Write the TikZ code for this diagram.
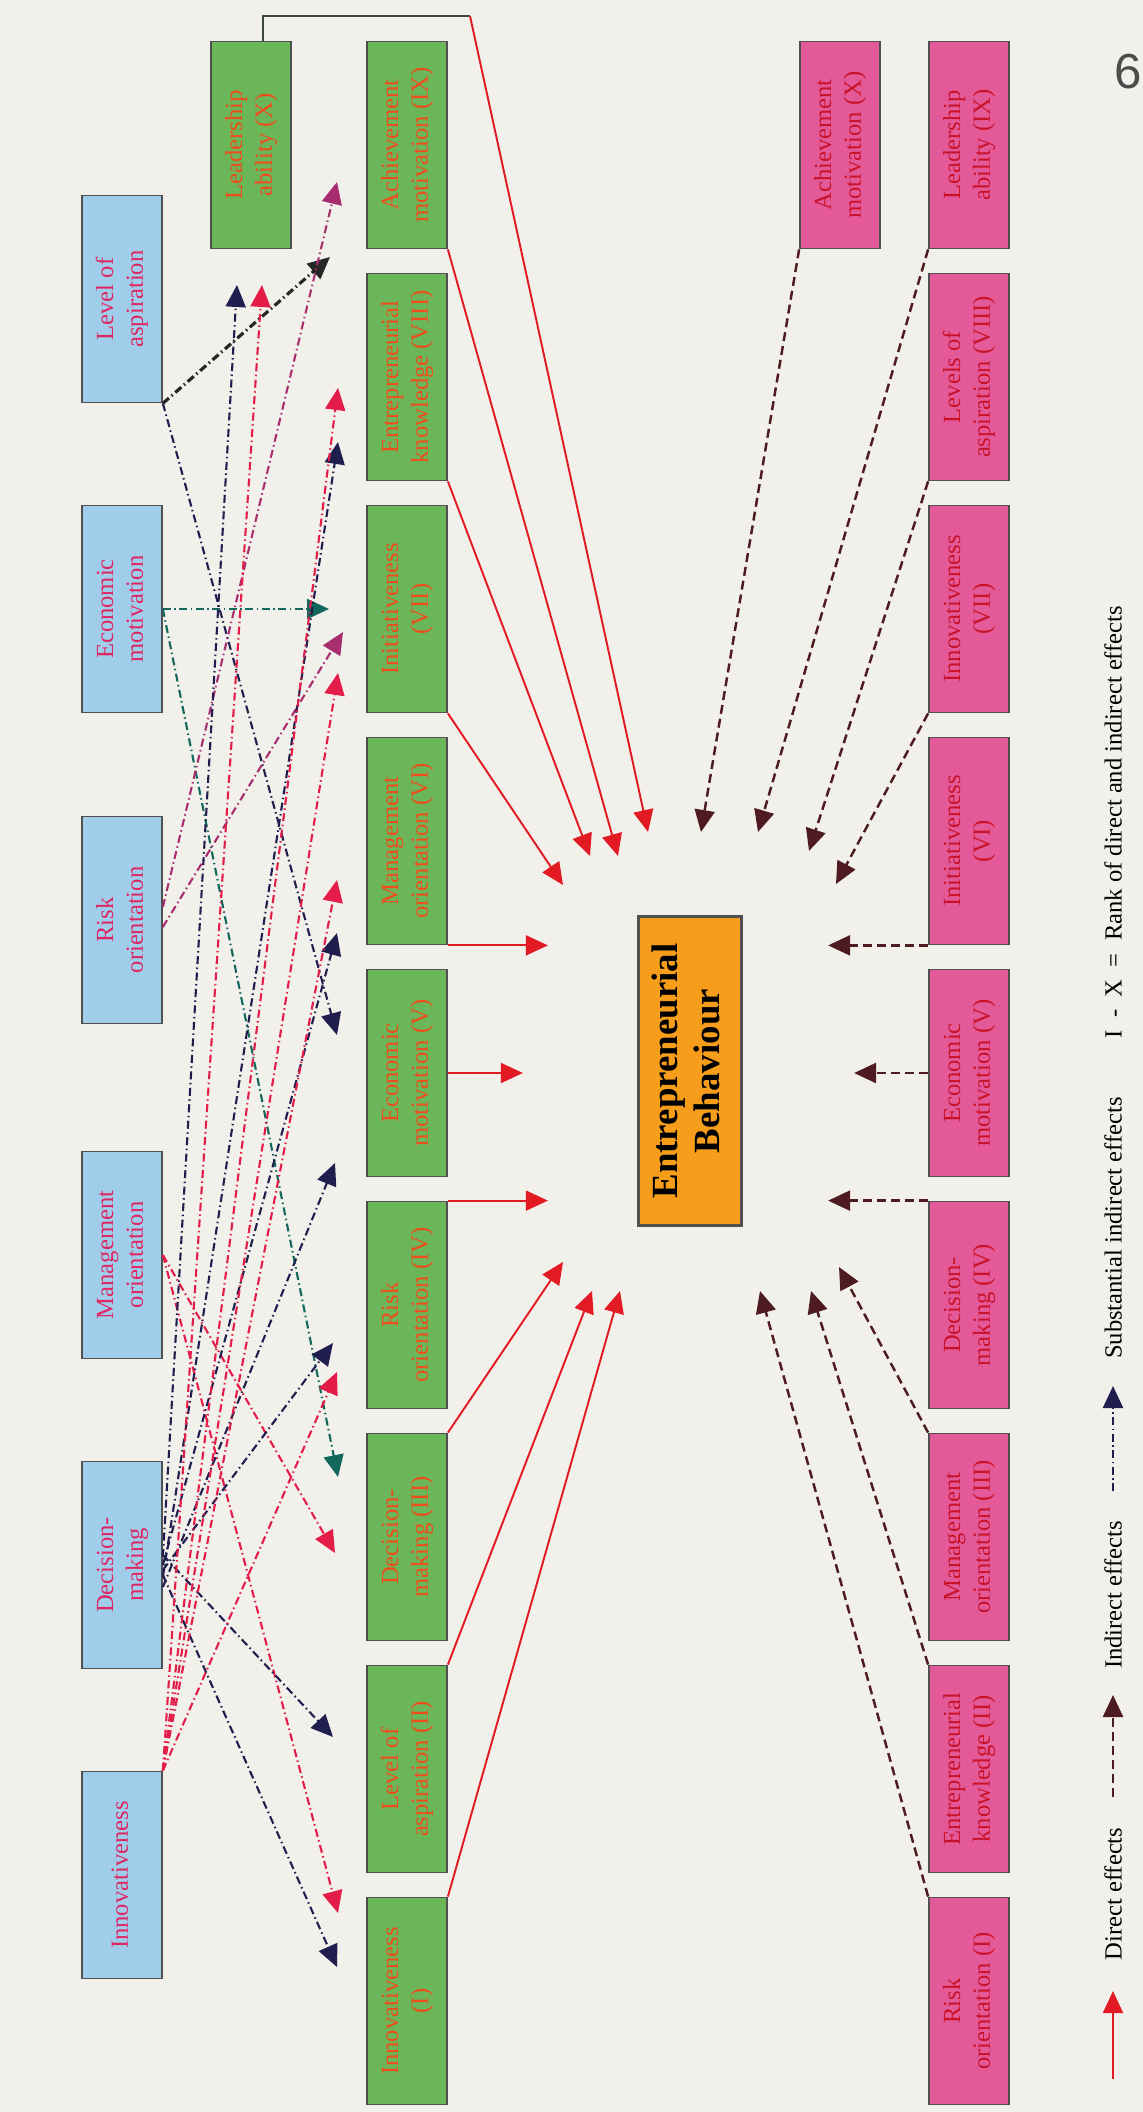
\documentclass[tikz,border=0pt]{standalone}
\usepackage{graphicx}
\usepackage{fontspec}
\setmainfont{Liberation Serif}
\newfontfamily\pagefont{Liberation Sans}
\usetikzlibrary{arrows.meta,calc}

\definecolor{paper}{RGB}{242,240,235}
\definecolor{boxline}{RGB}{80,80,80}
\definecolor{bluefill}{RGB}{160,206,234}
\definecolor{greenfill}{RGB}{108,182,90}
\definecolor{pinkfill}{RGB}{228,90,152}
\definecolor{ebfill}{RGB}{246,158,28}
\definecolor{bluetxt}{RGB}{222,38,98}
\definecolor{greentxt}{RGB}{240,76,28}
\definecolor{pinktxt}{RGB}{200,18,42}
\definecolor{dred}{RGB}{226,26,36}
\definecolor{dbrown}{RGB}{78,28,32}
\definecolor{navyc}{RGB}{32,30,78}
\definecolor{redc}{RGB}{228,28,72}
\definecolor{magc}{RGB}{168,46,112}
\definecolor{tealc}{RGB}{18,104,92}
\definecolor{bracket}{RGB}{60,72,60}

\newcommand{\vt}[1]{\rotatebox{90}{\begin{tabular}{@{}c@{}}#1\end{tabular}}}

\begin{document}
\begin{tikzpicture}[x=0.1mm,y=-0.1mm,
   box/.style={draw=boxline,line width=0.5pt,minimum width=8mm,minimum height=20.7mm,
     inner sep=0pt,font=\fontsize{7}{8.5}\selectfont},
   bluebox/.style={box,fill=bluefill,text=bluetxt},
   greenbox/.style={box,fill=greenfill,text=greentxt},
   pinkbox/.style={box,fill=pinkfill,text=pinktxt},
   tip/.style={-{Triangle[length=2.2mm,width=2mm]}},
   direct/.style={tip,draw=dred,line width=0.55pt},
   indirect/.style={tip,draw=dbrown,line width=0.7pt,dash pattern=on 0.9mm off 0.5mm},
   subst/.style={tip,line width=0.6pt,dash pattern=on 0.8mm off 0.35mm on 0.15mm off 0.35mm},
   legend/.style={rotate=90,font=\fontsize{7}{8.5}\selectfont,inner sep=0pt}]
\fill[paper] (0,0) rectangle (1143,2112);
\useasboundingbox (0,0) rectangle (1143,2112);

\draw (122,299) node[bluebox] (loa) {\vt{Level of\\aspiration}};
\draw (122,609) node[bluebox] (em) {\vt{Economic\\motivation}};
\draw (122,920) node[bluebox] (ro) {\vt{Risk\\orientation}};
\draw (122,1255) node[bluebox] (mo) {\vt{Management\\orientation}};
\draw (122,1565) node[bluebox] (dm) {\vt{Decision-\\making}};
\draw (122,1875) node[bluebox] (inn) {\vt{Innovativeness}};

\draw (251,145) node[greenbox] (g10) {\vt{Leadership\\ability (X)}};
\draw (407,145) node[greenbox] (g9) {\vt{Achievement\\motivation (IX)}};
\draw (407,377) node[greenbox] (g8) {\vt{Entrepreneurial\\knowledge (VIII)}};
\draw (407,609) node[greenbox] (g7) {\vt{Initiativeness\\(VII)}};
\draw (407,841) node[greenbox] (g6) {\vt{Management\\orientation (VI)}};
\draw (407,1073) node[greenbox] (g5) {\vt{Economic\\motivation (V)}};
\draw (407,1305) node[greenbox] (g4) {\vt{Risk\\orientation (IV)}};
\draw (407,1537) node[greenbox] (g3) {\vt{Decision-\\making (III)}};
\draw (407,1769) node[greenbox] (g2) {\vt{Level of\\aspiration (II)}};
\draw (407,2001) node[greenbox] (g1) {\vt{Innovativeness\\(I)}};

\draw (690,1071) node[draw=boxline,line width=0.7pt,fill=ebfill,minimum width=10.3mm,
   minimum height=30.9mm,inner sep=0pt,font=\fontsize{10.5}{12}\selectfont\bfseries] (eb)
   {\vt{Entrepreneurial\\Behaviour}};

\draw (840,145) node[pinkbox] (p10) {\vt{Achievement\\motivation (X)}};
\draw (969,145) node[pinkbox] (p9) {\vt{Leadership\\ability (IX)}};
\draw (969,377) node[pinkbox] (p8) {\vt{Levels of\\aspiration (VIII)}};
\draw (969,609) node[pinkbox] (p7) {\vt{Innovativeness\\(VII)}};
\draw (969,841) node[pinkbox] (p6) {\vt{Initiativeness\\(VI)}};
\draw (969,1073) node[pinkbox] (p5) {\vt{Economic\\motivation (V)}};
\draw (969,1305) node[pinkbox] (p4) {\vt{Decision-\\making (IV)}};
\draw (969,1537) node[pinkbox] (p3) {\vt{Management\\orientation (III)}};
\draw (969,1769) node[pinkbox] (p2) {\vt{Entrepreneurial\\knowledge (II)}};
\draw (969,2001) node[pinkbox] (p1) {\vt{Risk\\orientation (I)}};

\node[font=\pagefont\fontsize{14}{14}\selectfont,text=black!70] (pg) at (1128,72) {6};

% direct effects
\coordinate (xb) at (470,16);
\coordinate (dX) at (648,832);
\coordinate (dIX) at (618,856);
\coordinate (dVIII) at (590,856);
\coordinate (dVII) at (563,885);
\coordinate (dVI) at ($(g6.south east)+(100,0)$);
\coordinate (dV) at ($(g5.east)+(75,0)$);
\coordinate (dIV) at ($(g4.north east)+(100,0)$);
\coordinate (dIII) at (563,1262);
\coordinate (dII) at (592,1291);
\coordinate (dI) at (620,1291);
\draw[bracket,line width=0.6pt] ($(g10.north)+(12,0)$) |- (xb);
\draw[direct] (xb) -- (dX);
\draw[direct] (g9.south east) -- (dIX);
\draw[direct] (g8.south east) -- (dVIII);
\draw[direct] (g7.south east) -- (dVII);
\draw[direct] (g6.south east) -- (dVI);
\draw[direct] (g5.east) -- (dV);
\draw[direct] (g4.north east) -- (dIV);
\draw[direct] (g3.north east) -- (dIII);
\draw[direct] (g2.north east) -- (dII);
\draw[direct] (g1.north east) -- (dI);

% indirect effects
\coordinate (iX) at (701,832);
\coordinate (iIX) at (758,832);
\coordinate (iVIII) at (809,851);
\coordinate (iVII) at (836,884);
\coordinate (iVI) at ($(p6.south west)+(-100,0)$);
\coordinate (iV) at ($(p5.west)+(-74,0)$);
\coordinate (iIV) at ($(p4.north west)+(-100,0)$);
\coordinate (iIII) at (839,1267);
\coordinate (iII) at (811,1291);
\coordinate (iI) at (760,1291);
\draw[indirect] (p10.south west) -- (iX);
\draw[indirect] (p9.south west) -- (iIX);
\draw[indirect] (p8.south west) -- (iVIII);
\draw[indirect] (p7.south west) -- (iVII);
\draw[indirect] (p6.south west) -- (iVI);
\draw[indirect] (p5.west) -- (iV);
\draw[indirect] (p4.north west) -- (iIV);
\draw[indirect] (p3.north west) -- (iIII);
\draw[indirect] (p2.north west) -- (iII);
\draw[indirect] (p1.north west) -- (iI);

% substantial indirect effects
\coordinate (sXa) at (237,285);
\coordinate (sXb) at (262,285);
\coordinate (sIXa) at (337,182);
\coordinate (sIXb) at (330,257);
\coordinate (sVIIIa) at (338,388);
\coordinate (sVIIIb) at (338,442);
\coordinate (sVIIa) at (329,609);
\coordinate (sVIIb) at (343,632);
\coordinate (sVIIc) at (338,673);
\coordinate (sVIa) at (337,880);
\coordinate (sVIb) at (337,933);
\coordinate (sVa) at (337,1035);
\coordinate (sVb) at (335,1163);
\coordinate (sIVa) at (333,1343);
\coordinate (sIVb) at (337,1372);
\coordinate (sIIIa) at (338,1477);
\coordinate (sIIIb) at (335,1553);
\coordinate (sII) at (333,1737);
\coordinate (sIa) at (338,1913);
\coordinate (sIb) at (337,1967);
\draw[subst,black!85,line width=0.9pt] (loa.south east) -- (sIXb);
\draw[subst,navyc] (loa.south east) -- (sVa);
\draw[subst,tealc] (em.east) -- (sVIIa);
\draw[subst,tealc] (em.east) -- (sIIIa);
\draw[subst,magc] ($(ro.east)+(0,-13)$) -- (sIXa);
\draw[subst,magc] ($(ro.east)+(0,7)$) -- (sVIIb);
\draw[subst,redc] (mo.east) -- (sIIIb);
\draw[subst,redc] (mo.east) -- (sIa);
\draw[subst,navyc] ($(dm.east)+(0,-8)$) -- (sXa);
\draw[subst,navyc] ($(dm.east)+(0,12)$) -- (sVIIIb);
\draw[subst,navyc] (dm.east) -- (sVIb);
\draw[subst,navyc] ($(dm.east)+(0,22)$) -- (sVb);
\draw[subst,navyc] ($(dm.east)+(0,5)$) -- (sIVa);
\draw[subst,navyc] ($(dm.east)+(0,-10)$) -- (sII);
\draw[subst,navyc] ($(dm.east)+(0,10)$) -- (sIb);
\draw[subst,redc] (inn.north east) -- (sXb);
\draw[subst,redc] (inn.north east) -- (sVIIIa);
\draw[subst,redc] (inn.north east) -- (sVIIc);
\draw[subst,redc] (inn.north east) -- (sVIa);
\draw[subst,redc] (inn.north east) -- (sIVb);

% legend
\node[legend] (lg1) at (1113,1894) {Direct effects};
\node[legend] (lg2) at (1113,1595) {Indirect effects};
\node[legend] (lg3) at (1113,1228) {Substantial indirect effects};
\node[legend] (lg4) at (1113,822) {I\enspace-\enspace X\enspace=\enspace Rank of direct and indirect effects};
\coordinate (la1) at (1113,2079);
\coordinate (la2) at (1113,1991);
\coordinate (lb1) at (1113,1797);
\coordinate (lb2) at (1113,1695);
\coordinate (lc1) at (1113,1491);
\coordinate (lc2) at (1113,1386);
\draw[direct] (la1) -- (la2);
\draw[indirect] (lb1) -- (lb2);
\draw[subst,navyc] (lc1) -- (lc2);
\end{tikzpicture}
\end{document}
